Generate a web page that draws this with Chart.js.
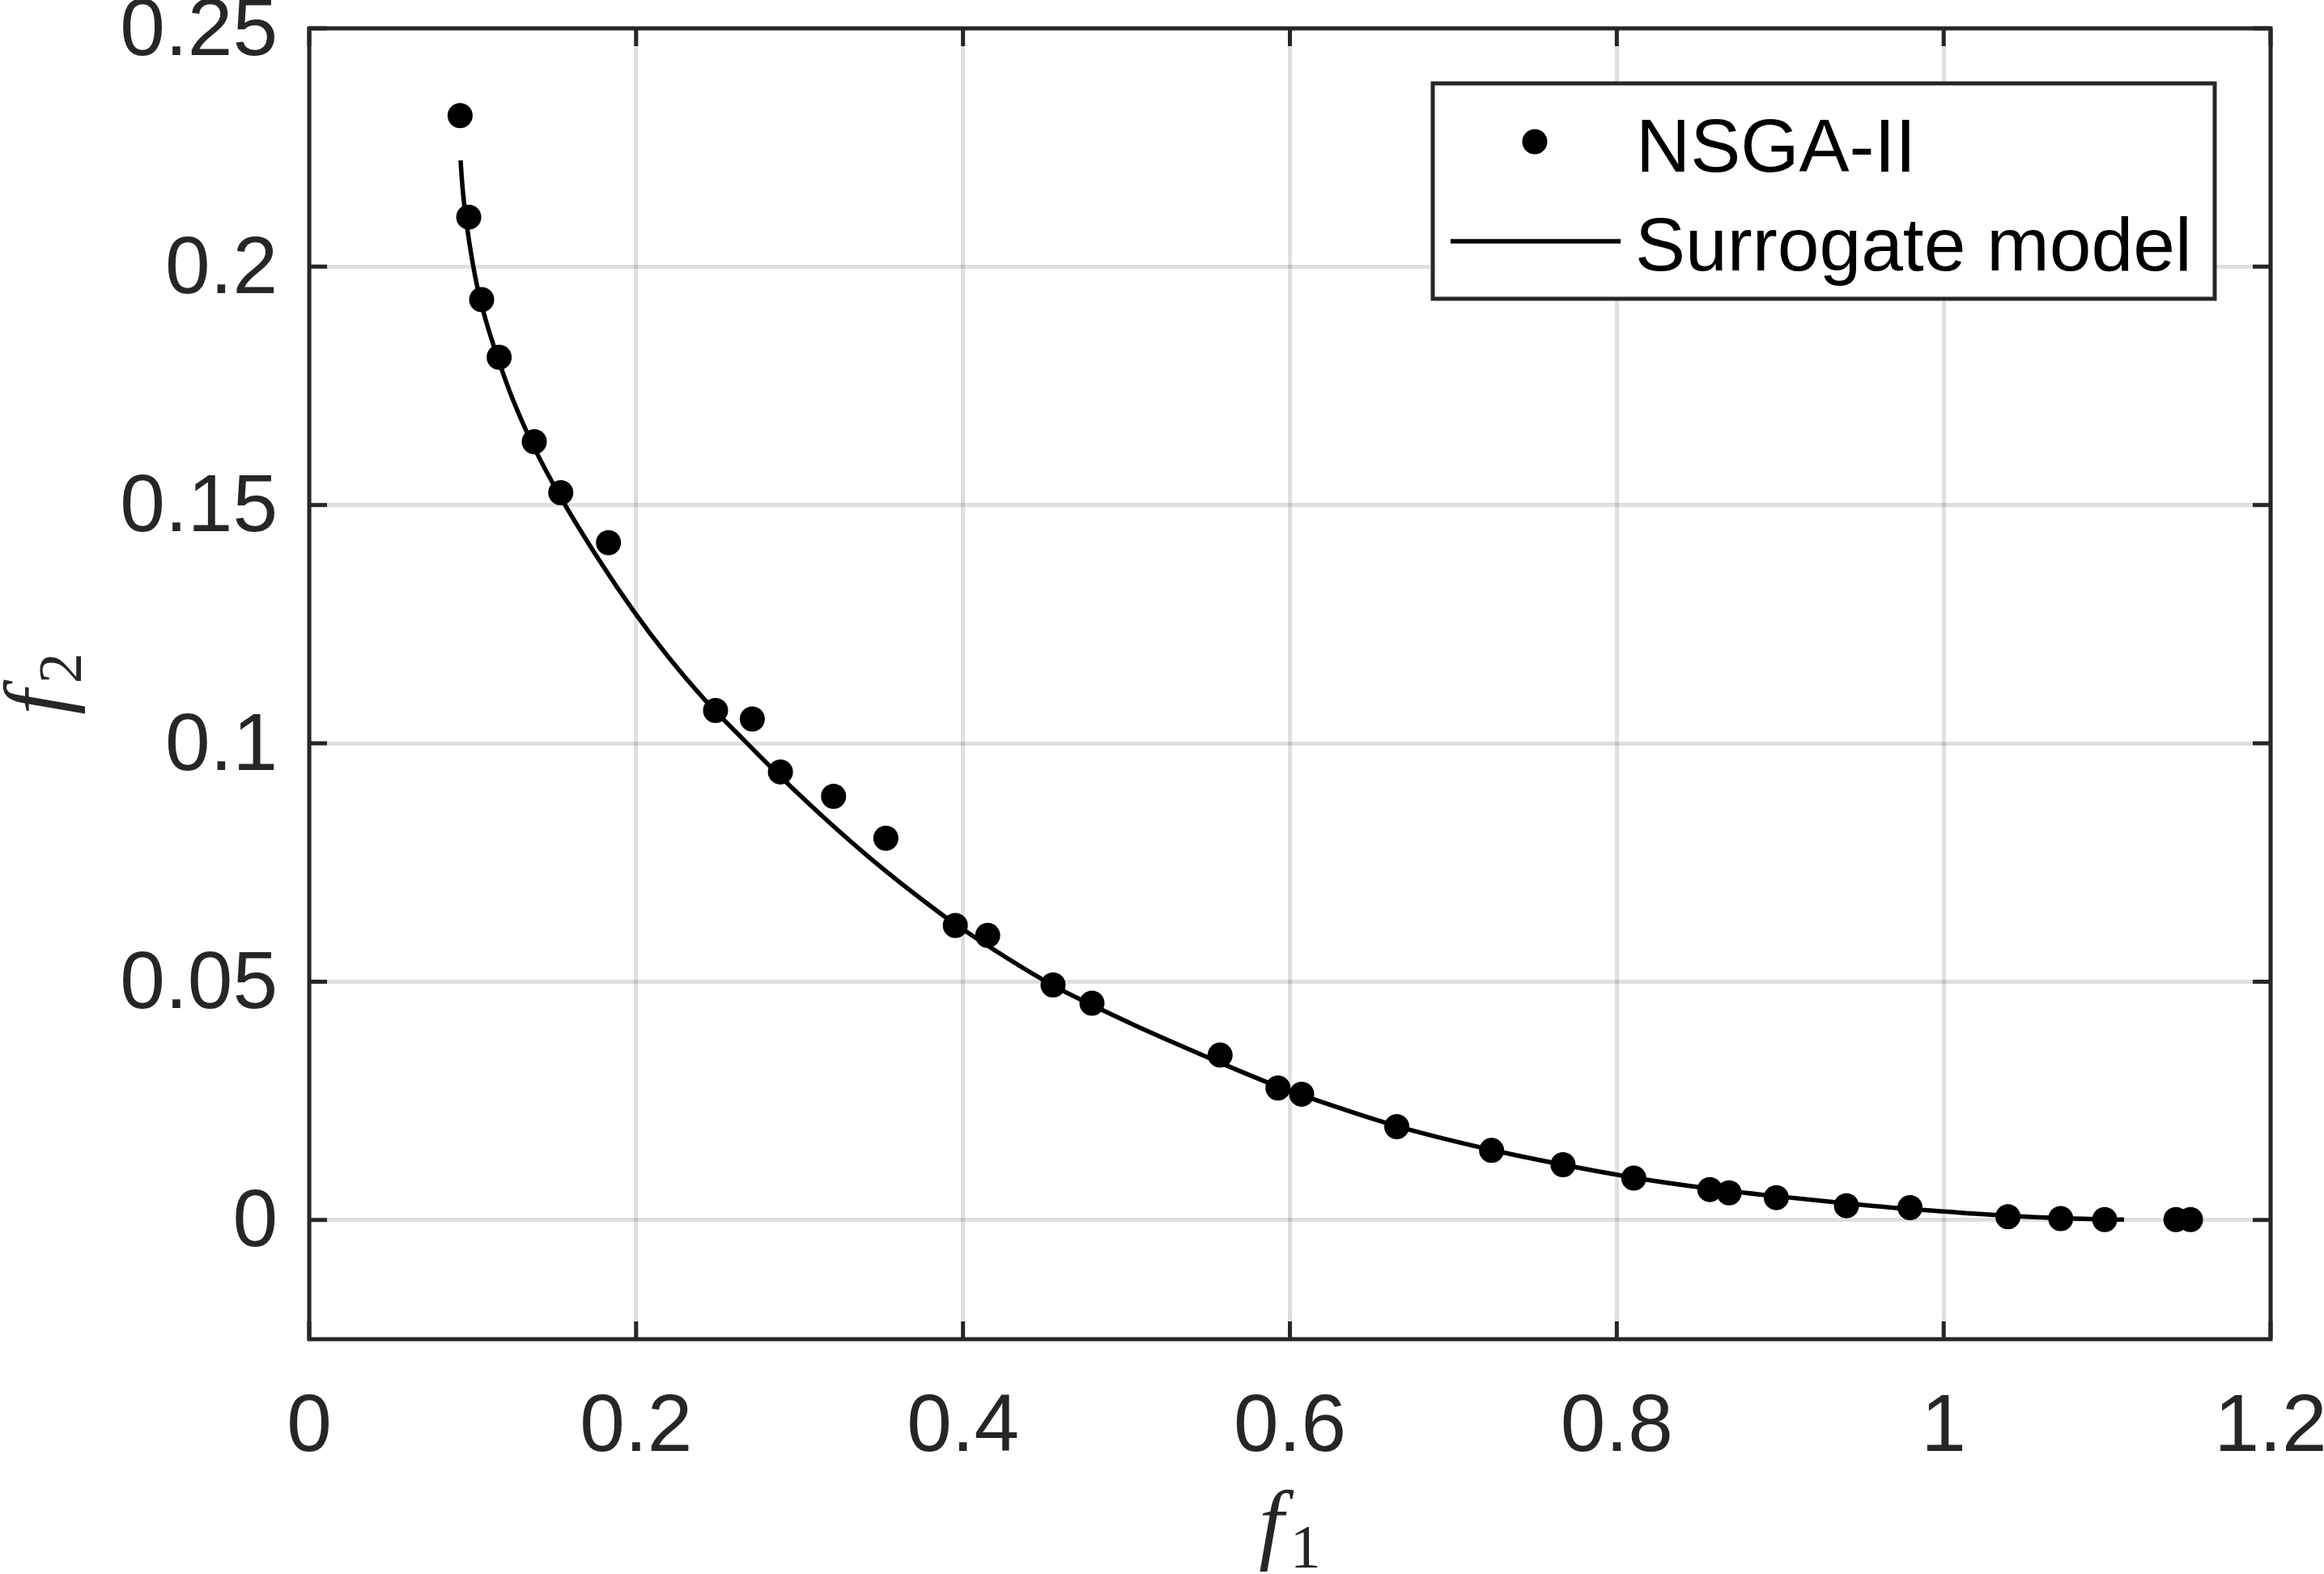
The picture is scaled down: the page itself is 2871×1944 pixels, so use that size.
<!DOCTYPE html>
<html>
<head>
<meta charset="utf-8">
<script src="https://cdn.jsdelivr.net/npm/chart.js@4"></script>
<style>
  html, body { margin: 0; padding: 0; background: #fff; }
  #wrap { width: 2871px; height: 1944px; }
</style>
</head>
<body>
<div id="wrap"><canvas id="paretoChart" width="2871" height="1944"></canvas></div>
<script>
// 坐标轴刻度
const f1Ticks = [0, 0.2, 0.4, 0.6, 0.8, 1, 1.2];
const f1TickLabels = ['0', '0.2', '0.4', '0.6', '0.8', '1', '1.2'];
const f2Ticks = [0, 0.05, 0.1, 0.15, 0.2, 0.25];
const f2TickLabels = ['0', '0.05', '0.1', '0.15', '0.2', '0.25'];

const seriesNames = ['NSGA-II', 'Surrogate model'];

// NSGA-II 解
const nsgaF1 = [0.0923, 0.0976, 0.1055, 0.1162, 0.1377, 0.1539, 0.1831, 0.2486, 0.2711, 0.2883,
    0.3208, 0.3528, 0.3953, 0.4151, 0.4551, 0.4789, 0.5573, 0.5927, 0.6072, 0.6654,
    0.7234, 0.7671, 0.8104, 0.8569, 0.8687, 0.8976, 0.9405, 0.9794, 1.0393, 1.0716,
    1.0985, 1.1421, 1.1510];
const nsgaF2 = [0.2317, 0.2104, 0.1931, 0.1810, 0.1633, 0.1526, 0.1421, 0.1069, 0.1051, 0.0940,
    0.0889, 0.0801, 0.0618, 0.0597, 0.0493, 0.0455, 0.0346, 0.0277, 0.0264, 0.0196,
    0.0146, 0.0116, 0.0088, 0.0064, 0.0057, 0.0047, 0.0030, 0.0026, 0.0007, 0.0003,
    0.0001, 0.0001, 0.0001];

// 代理模型曲线
const surrogateF1 = [0.0926, 0.0935, 0.0948, 0.0967, 0.0997, 0.1030, 0.1080, 0.1162, 0.1245, 0.1377,
    0.1539, 0.1773, 0.1988, 0.2186, 0.2434, 0.2665, 0.2863, 0.3160, 0.3457, 0.3754,
    0.3952, 0.4551, 0.4789, 0.5042, 0.5290, 0.5573, 0.5927, 0.6072, 0.6654, 0.7234,
    0.7671, 0.8103, 0.8569, 0.8976, 0.9405, 0.9794, 1.0000, 1.0393, 1.0716, 1.1103];
const surrogateF2 = [0.2223, 0.2178, 0.2132, 0.2080, 0.2014, 0.1955, 0.1888, 0.1800, 0.1722, 0.1620,
    0.1516, 0.1385, 0.1276, 0.1186, 0.1086, 0.1005, 0.0937, 0.0841, 0.0752, 0.0671,
    0.0621, 0.0492, 0.0451, 0.0410, 0.0372, 0.0330, 0.0280, 0.0262, 0.0197, 0.0147,
    0.0116, 0.0089, 0.0066, 0.0050, 0.0035, 0.0023, 0.0018, 0.0009, 0.0004, 0.0001];

const axisColor = '#262626';
const sansFont = "'Liberation Sans', Arial, Helvetica, sans-serif";
const serifFont = "'Liberation Serif', 'Times New Roman', serif";

// 边框、内向刻度、坐标轴标题、图例
const matlabFrame = {
    id: 'matlabFrame',
    afterDraw(chart) {
        const ctx = chart.ctx;
        const a = chart.chartArea;
        const xs = chart.scales.x;
        const ys = chart.scales.y;
        const tickLen = 22;
        ctx.save();
        ctx.strokeStyle = axisColor;
        ctx.lineWidth = 5;
        ctx.beginPath();
        f1Ticks.forEach(v => {
            const px = xs.getPixelForValue(v);
            ctx.moveTo(px, a.bottom); ctx.lineTo(px, a.bottom - tickLen);
            ctx.moveTo(px, a.top); ctx.lineTo(px, a.top + tickLen);
        });
        f2Ticks.forEach(v => {
            const py = ys.getPixelForValue(v);
            ctx.moveTo(a.left, py); ctx.lineTo(a.left + tickLen, py);
            ctx.moveTo(a.right, py); ctx.lineTo(a.right - tickLen, py);
        });
        ctx.stroke();
        ctx.strokeRect(a.left, a.top, a.right - a.left, a.bottom - a.top);

        // 坐标轴标题 f1 / f2
        ctx.fillStyle = axisColor;
        ctx.textBaseline = 'alphabetic';
        ctx.textAlign = 'left';
        const cx = (a.left + a.right) / 2;
        ctx.font = 'italic 110px ' + serifFont;
        const fW = ctx.measureText('f').width;
        ctx.font = '76px ' + serifFont;
        const sW = ctx.measureText('1').width;
        let x0 = cx - (fW + sW + 8) / 2;
        ctx.font = 'italic 110px ' + serifFont;
        ctx.fillText('f', x0, 1918);
        ctx.font = '76px ' + serifFont;
        ctx.fillText('1', x0 + fW + 8, 1936);

        const cy = (a.top + a.bottom) / 2;
        ctx.save();
        ctx.translate(82, cy);
        ctx.rotate(-Math.PI / 2);
        ctx.font = 'italic 110px ' + serifFont;
        ctx.fillText('f', -(fW + sW + 8) / 2, 0);
        ctx.font = '76px ' + serifFont;
        ctx.fillText('2', -(fW + sW + 8) / 2 + fW + 8, 18);
        ctx.restore();

        // 图例
        const bx = a.right - 1035, by = a.top + 68, bw = 966, bh = 266;
        ctx.fillStyle = '#fff';
        ctx.fillRect(bx, by, bw, bh);
        ctx.lineWidth = 5;
        ctx.strokeStyle = axisColor;
        ctx.strokeRect(bx, by, bw, bh);
        ctx.fillStyle = '#000';
        ctx.beginPath();
        ctx.arc(bx + 126, by + 72, 15.5, 0, Math.PI * 2);
        ctx.fill();
        ctx.strokeStyle = '#000';
        ctx.lineWidth = 5.5;
        ctx.beginPath();
        ctx.moveTo(bx + 22, by + 195);
        ctx.lineTo(bx + 232, by + 195);
        ctx.stroke();
        ctx.font = '93px ' + sansFont;
        ctx.fillText(chart.data.datasets[0].label, bx + 251, by + 109);
        ctx.fillText(chart.data.datasets[1].label, bx + 250, by + 231);
        ctx.restore();
    }
};

// 去掉刻度标签带来的额外边距，让绘图区位置固定
function fixPadding(scale) {
    scale.paddingTop = 0;
    scale.paddingBottom = 0;
    scale.paddingLeft = 0;
    scale.paddingRight = 0;
}

const paretoChart = new Chart(document.getElementById('paretoChart'), {
    type: 'scatter',
    data: {
        datasets: [
            {
                label: seriesNames[0],
                data: nsgaF1.map((v, i) => ({x: v, y: nsgaF2[i]})),
                backgroundColor: '#000',
                borderColor: '#000',
                pointRadius: 15.5,
                pointBorderWidth: 0,
                order: 0
            },
            {
                label: seriesNames[1],
                data: surrogateF1.map((v, i) => ({x: v, y: surrogateF2[i]})),
                showLine: true,
                borderColor: '#000',
                borderWidth: 5.5,
                pointRadius: 0,
                cubicInterpolationMode: 'monotone',
                fill: false,
                order: 1
            }
        ]
    },
    options: {
        responsive: false,
        devicePixelRatio: 1,
        animation: false,
        layout: {padding: {top: 35, right: 66, left: 0, bottom: 0}},
        plugins: {
            legend: {display: false},
            tooltip: {enabled: false}
        },
        scales: {
            x: {
                type: 'linear',
                min: 0,
                max: 1.2,
                afterBuildTicks: scale => { scale.ticks = f1Ticks.map(v => ({value: v})); },
                afterFit: scale => { scale.height = 290; fixPadding(scale); },
                grid: {color: 'rgba(38,38,38,0.15)', lineWidth: 5, drawTicks: false},
                border: {display: false},
                ticks: {
                    autoSkip: false,
                    maxRotation: 0,
                    padding: 50,
                    color: axisColor,
                    font: {family: sansFont, size: 100},
                    callback: (value, index) => f1TickLabels[index]
                }
            },
            y: {
                type: 'linear',
                min: -0.025,
                max: 0.25,
                afterBuildTicks: scale => { scale.ticks = f2Ticks.map(v => ({value: v})); },
                afterFit: scale => { scale.width = 382; fixPadding(scale); },
                grid: {color: 'rgba(38,38,38,0.15)', lineWidth: 5, drawTicks: false},
                border: {display: false},
                ticks: {
                    autoSkip: false,
                    padding: 39,
                    color: axisColor,
                    // 空首行把标签下移几像素
                    font: {family: sansFont, size: 100, lineHeight: '10px'},
                    callback: (value, index) => ['', f2TickLabels[index]]
                }
            }
        }
    },
    plugins: [matlabFrame]
});
</script>
</body>
</html>
